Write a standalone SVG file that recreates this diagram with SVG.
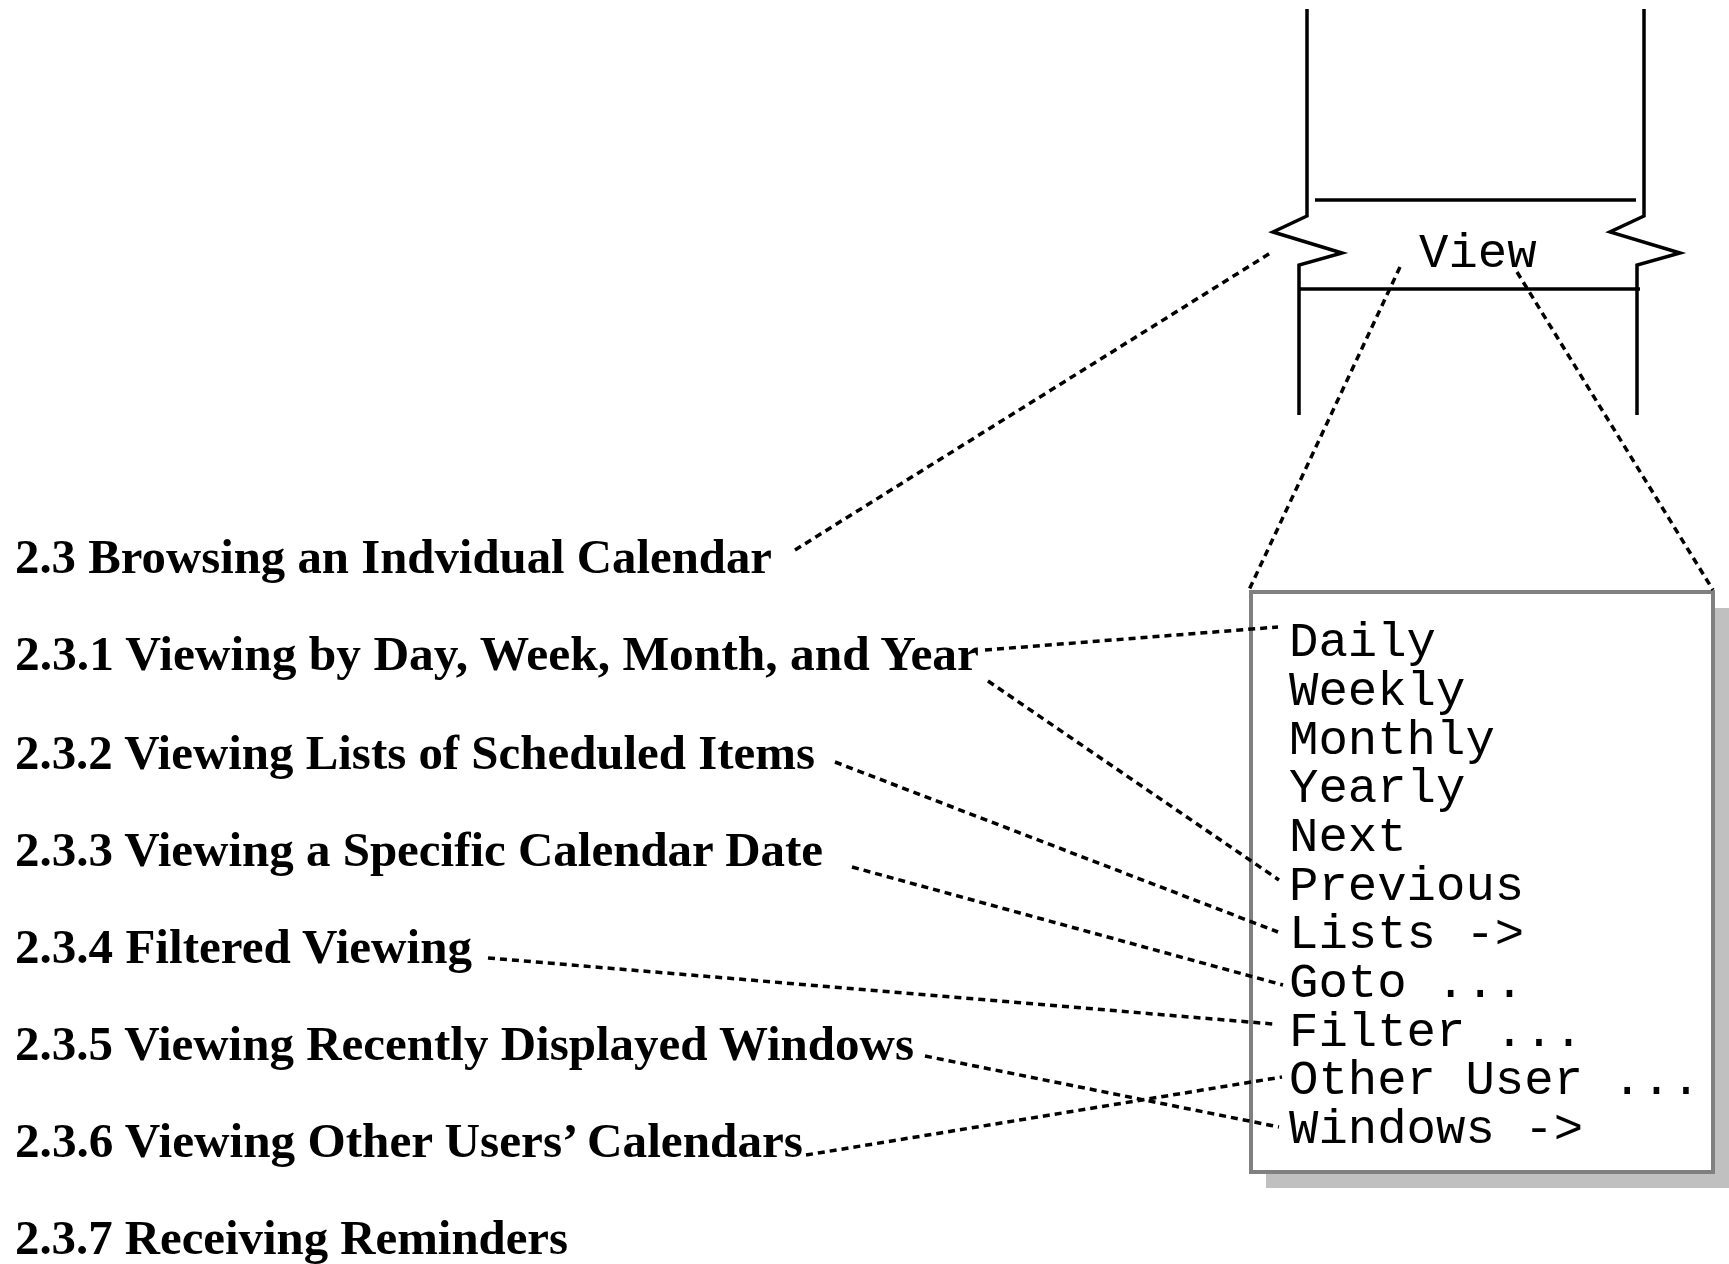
<svg xmlns="http://www.w3.org/2000/svg" width="1729" height="1264" viewBox="0 0 1729 1264">
  <style>
    .heading { font-family: "Liberation Serif", "Times New Roman", serif; font-weight: bold; font-size: 49.5px; fill: #000; }
    .mono { font-family: "Liberation Mono", "Courier New", monospace; font-size: 49px; fill: #000; }
    .frame { fill: none; stroke: #000; stroke-width: 3.5; stroke-linejoin: miter; }
    .link { fill: none; stroke: #000; stroke-width: 3.5; stroke-dasharray: 7 5; }
  </style>
  <rect width="1729" height="1264" fill="#fff"/>

  <!-- menu bar fragment with the View entry -->
  <g id="menubar">
    <polyline class="frame" points="1307,9 1307,216 1273,232 1342,253 1299,265 1299,415"/>
    <polyline class="frame" points="1644,9 1644,216 1610,232 1680,253 1637,265 1637,415"/>
    <line class="frame" x1="1315" y1="200" x2="1636" y2="200"/>
    <line class="frame" x1="1299" y1="289" x2="1640" y2="289"/>
    <text class="mono" x="1419" y="267">View</text>
  </g>

  <!-- pull-down menu -->
  <g id="menu">
    <rect x="1266" y="608" width="470" height="580" fill="#c0c0c0"/>
    <rect x="1251" y="592" width="462" height="580" fill="#fff" stroke="#808080" stroke-width="4"/>
    <text class="mono" x="1289" y="656">Daily</text>
    <text class="mono" x="1289" y="705">Weekly</text>
    <text class="mono" x="1289" y="754">Monthly</text>
    <text class="mono" x="1289" y="802">Yearly</text>
    <text class="mono" x="1289" y="851">Next</text>
    <text class="mono" x="1289" y="900">Previous</text>
    <text class="mono" x="1289" y="948">Lists -&gt;</text>
    <text class="mono" x="1289" y="997">Goto ...</text>
    <text class="mono" x="1289" y="1046">Filter ...</text>
    <text class="mono" x="1289" y="1094">Other User ...</text>
    <text class="mono" x="1289" y="1143">Windows -&gt;</text>
  </g>

  <!-- section headings -->
  <g id="headings">
    <text id="h2-3" class="heading" x="15" y="573" textLength="757" lengthAdjust="spacingAndGlyphs">2.3 Browsing an Indvidual Calendar</text>
    <text id="h2-3-1" class="heading" x="15" y="670" textLength="964" lengthAdjust="spacingAndGlyphs">2.3.1 Viewing by Day, Week, Month, and Year</text>
    <text id="h2-3-2" class="heading" x="15" y="769" textLength="800" lengthAdjust="spacingAndGlyphs">2.3.2 Viewing Lists of Scheduled Items</text>
    <text id="h2-3-3" class="heading" x="15" y="866" textLength="808" lengthAdjust="spacingAndGlyphs">2.3.3 Viewing a Specific Calendar Date</text>
    <text id="h2-3-4" class="heading" x="15" y="963" textLength="457" lengthAdjust="spacingAndGlyphs">2.3.4 Filtered Viewing</text>
    <text id="h2-3-5" class="heading" x="15" y="1060" textLength="899" lengthAdjust="spacingAndGlyphs">2.3.5 Viewing Recently Displayed Windows</text>
    <text id="h2-3-6" class="heading" x="15" y="1157" textLength="788" lengthAdjust="spacingAndGlyphs">2.3.6 Viewing Other Users’ Calendars</text>
    <text id="h2-3-7" class="heading" x="15" y="1254" textLength="553" lengthAdjust="spacingAndGlyphs">2.3.7 Receiving Reminders</text>
  </g>

  <!-- dotted connectors -->
  <g id="connectors">
    <line class="link" x1="795" y1="550" x2="1272" y2="252"/>
    <line class="link" x1="1400" y1="267" x2="1249" y2="590"/>
    <line class="link" x1="1517" y1="272" x2="1713" y2="590"/>
    <line class="link" x1="985" y1="650" x2="1278" y2="627"/>
    <line class="link" x1="988" y1="681" x2="1279" y2="880"/>
    <line class="link" x1="835" y1="762" x2="1278" y2="932"/>
    <line class="link" x1="852" y1="867" x2="1283" y2="985"/>
    <line class="link" x1="488" y1="958" x2="1273" y2="1024"/>
    <line class="link" x1="925" y1="1056" x2="1279" y2="1127"/>
    <line class="link" x1="806" y1="1155" x2="1282" y2="1077"/>
  </g>
</svg>
